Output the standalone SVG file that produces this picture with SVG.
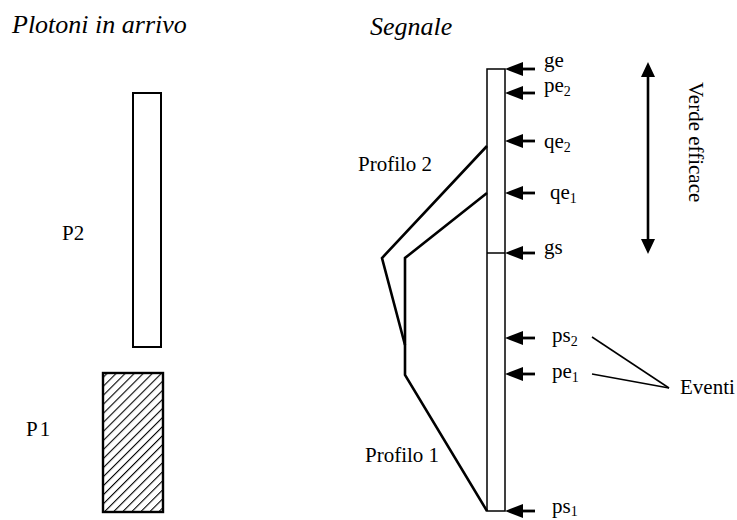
<svg xmlns="http://www.w3.org/2000/svg" width="737" height="520" viewBox="0 0 737 520" font-family="'Liberation Serif', 'Times New Roman', 'DejaVu Serif', serif">
  <style>
    text { font-family: "Liberation Serif", "Times New Roman", "DejaVu Serif", serif; fill: #000; }
    .title { font-size: 26px; font-style: italic; }
    .lab { font-size: 21px; }
    .sub { font-size: 14px; }
    .bar { fill: #fff; stroke: #000; stroke-width: 1.5; }
    .prof { fill: none; stroke: #000; stroke-width: 2.6; stroke-linejoin: miter; }
    .ev { fill: none; stroke: #000; stroke-width: 1.5; }
    .shaft { stroke: #000; stroke-width: 2.8; }
    .head { fill: #000; }
  </style>
  <defs>
    <pattern id="hatch" patternUnits="userSpaceOnUse" width="6.4" height="6.4" patternTransform="rotate(45)">
      <line x1="0" y1="0" x2="0" y2="6.4" stroke="#000" stroke-width="2.2"/>
    </pattern>
  </defs>

  <!-- Titles -->
  <text class="title" x="12" y="33">Plotoni in arrivo</text>
  <text class="title" x="370" y="35">Segnale</text>

  <!-- Arriving platoons -->
  <g id="P2">
    <rect x="133" y="93" width="28" height="254" fill="#fff" stroke="#000" stroke-width="2"/>
    <text class="lab" x="62" y="240">P2</text>
  </g>
  <g id="P1">
    <rect x="103" y="373" width="60" height="139" fill="url(#hatch)" stroke="#000" stroke-width="2.4"/>
    <text class="lab" x="26" y="436" letter-spacing="2">P1</text>
  </g>

  <!-- Signal bar -->
  <g id="signal">
    <rect class="bar" x="487" y="69" width="18" height="442"/>
    <line x1="487" y1="253" x2="505" y2="253" stroke="#000" stroke-width="1.5"/>
  </g>

  <!-- Profiles -->
  <g id="profiles">
    <polyline class="prof" points="487,146 382,258 405,345"/>
    <polyline class="prof" points="487,193 405,258 405,375 487,511"/>
    <text class="lab" x="358" y="171">Profilo 2</text>
    <text class="lab" x="365" y="462">Profilo 1</text>
  </g>

  <!-- Event arrows along the signal -->
  <g id="connectors">
    <g id="arr-ge"><line class="shaft" x1="535" y1="69" x2="518" y2="69"/><path class="head" d="M505,69 L523,62 L523,76 Z"/></g>
    <g id="arr-pe2"><line class="shaft" x1="535" y1="93" x2="518" y2="93"/><path class="head" d="M505,93 L523,86 L523,100 Z"/></g>
    <g id="arr-qe2"><line class="shaft" x1="535" y1="141" x2="518" y2="141"/><path class="head" d="M505,141 L523,134 L523,148 Z"/></g>
    <g id="arr-qe1"><line class="shaft" x1="535" y1="193" x2="518" y2="193"/><path class="head" d="M505,193 L523,186 L523,200 Z"/></g>
    <g id="arr-gs"><line class="shaft" x1="535" y1="253" x2="518" y2="253"/><path class="head" d="M505,253 L523,246 L523,260 Z"/></g>
    <g id="arr-ps2"><line class="shaft" x1="535" y1="338" x2="518" y2="338"/><path class="head" d="M505,338 L523,331 L523,345 Z"/></g>
    <g id="arr-pe1"><line class="shaft" x1="535" y1="374" x2="518" y2="374"/><path class="head" d="M505,374 L523,367 L523,381 Z"/></g>
    <g id="arr-ps1"><line class="shaft" x1="535" y1="511" x2="518" y2="511"/><path class="head" d="M505,511 L523,504 L523,518 Z"/></g>
    <!-- Event pointers -->
    <line class="ev" x1="592" y1="337" x2="669" y2="388"/>
    <line class="ev" x1="592" y1="374" x2="669" y2="388"/>
    <!-- Effective green span -->
    <line x1="648" y1="74" x2="648" y2="242" stroke="#000" stroke-width="2.6"/>
    <path class="head" d="M648,62 L655,77 L641,77 Z"/>
    <path class="head" d="M648,254 L655,239 L641,239 Z"/>
  </g>

  <!-- Signal labels -->
  <g id="labels">
    <text class="lab" x="544" y="67">ge</text>
    <text class="lab" x="544" y="92">pe<tspan class="sub" dy="4">2</tspan></text>
    <text class="lab" x="544" y="148">qe<tspan class="sub" dy="4">2</tspan></text>
    <text class="lab" x="550" y="199">qe<tspan class="sub" dy="4">1</tspan></text>
    <text class="lab" x="544" y="254">gs</text>
    <text class="lab" x="552" y="342">ps<tspan class="sub" dy="4">2</tspan></text>
    <text class="lab" x="552" y="378">pe<tspan class="sub" dy="4">1</tspan></text>
    <text class="lab" x="552" y="513">ps<tspan class="sub" dy="3">1</tspan></text>
    <text class="lab" x="680" y="394" font-size="20">Eventi</text>
    <text class="lab" transform="translate(689,82) rotate(90)">Verde efficace</text>
  </g>
</svg>
